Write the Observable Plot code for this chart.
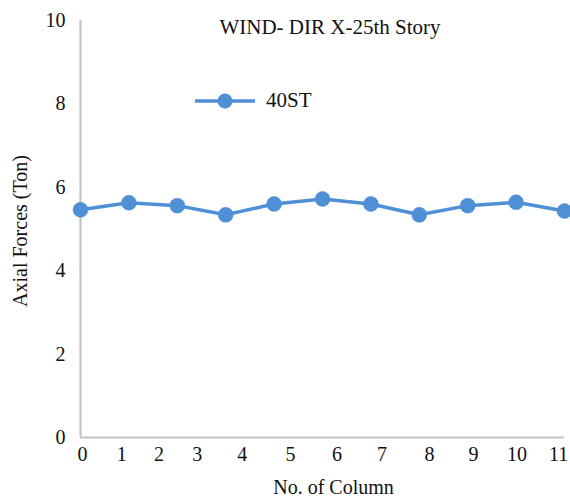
<!DOCTYPE html>
<html>
<head>
<meta charset="utf-8">
<script src="https://cdn.jsdelivr.net/npm/d3@7"></script>
<script src="https://cdn.jsdelivr.net/npm/@observablehq/plot@0.6"></script>
<style>
  html, body { margin: 0; padding: 0; background: #fff; }
  #wrap { position: relative; width: 570px; height: 499px; font-family: "Liberation Serif", "Times New Roman", serif; }
  #wrap svg text { font-family: "Liberation Serif", "Times New Roman", serif !important; }
  #title { position: absolute; left: 0; width: 660px; top: 15px; text-align: center; font-size: 21px; color: #111; }
  #legend { position: absolute; left: 193px; top: 88px; display: flex; align-items: center; font-size: 21px; color: #111; }
  #legend svg { margin-right: 9px; }
</style>
</head>
<body>
<div id="wrap">
  <div id="chart"></div>
  <div id="title"></div>
  <div id="legend"></div>
</div>
<script>
// ---- data ----
const chartTitle = "WIND- DIR X-25th Story";
const seriesName = "40ST";
const xTitle = "No. of Column";
const yTitle = "Axial Forces (Ton)";
const pointIndex = [0, 1, 2, 3, 4, 5, 6, 7, 8, 9, 10];
const axialForce = [5.46, 5.63, 5.56, 5.34, 5.60, 5.72, 5.60, 5.34, 5.56, 5.64, 5.43];
const xTickLabels = ["0", "1", "2", "3", "4", "5", "6", "7", "8", "9", "10", "11"];
const xTickAt = [0.04, 0.85, 1.62, 2.41, 3.34, 4.34, 5.30, 6.23, 7.21, 8.12, 9.02, 9.88];
const yTicks = [0, 2, 4, 6, 8, 10];

const blue = "#4f8fd6";
const axisGray = "#c3c3c3";
const serif = "'Liberation Serif', 'Times New Roman', serif";

const rows = pointIndex.map((x, i) => ({x, y: axialForce[i]}));

const chart = Plot.plot({
  width: 570,
  height: 499,
  marginLeft: 80,
  marginRight: 6,
  marginTop: 20,
  marginBottom: 62,
  x: {domain: [0, 10]},
  y: {domain: [0, 10]},
  style: {fontFamily: serif, fontSize: "20px", color: "#111", background: "#fff", overflow: "visible"},
  marks: [
    Plot.ruleY([0], {stroke: axisGray, strokeWidth: 2.2}),
    Plot.ruleX([0], {stroke: axisGray, strokeWidth: 2.2}),
    Plot.axisY({ticks: yTicks, tickSize: 0, tickPadding: 15, label: null, fontSize: 20}),
    Plot.axisX({ticks: xTickAt, tickFormat: d => xTickLabels[xTickAt.indexOf(d)], tickSize: 0, tickPadding: 9, label: null, fontSize: 20}),
    Plot.line(rows, {x: "x", y: "y", stroke: blue, strokeWidth: 3.5}),
    Plot.dot(rows, {x: "x", y: "y", r: 7.5, fill: blue, stroke: blue, strokeWidth: 0.5}),
    Plot.text([yTitle], {frameAnchor: "left", textAnchor: "middle", rotate: -90, dx: -60, dy: 2, fontSize: 20, fill: "#111"}),
    Plot.text([xTitle], {frameAnchor: "bottom", dx: 11, dy: 56, fontSize: 20, fill: "#111"})
  ]
});
document.getElementById("chart").appendChild(chart);

document.getElementById("title").textContent = chartTitle;
const lg = document.getElementById("legend");
lg.innerHTML = `<svg width="64" height="20"><line x1="2" y1="10" x2="62" y2="10" stroke="${blue}" stroke-width="3.5"/><circle cx="32" cy="10" r="7.5" fill="${blue}"/></svg><span>${seriesName}</span>`;
</script>
</body>
</html>
